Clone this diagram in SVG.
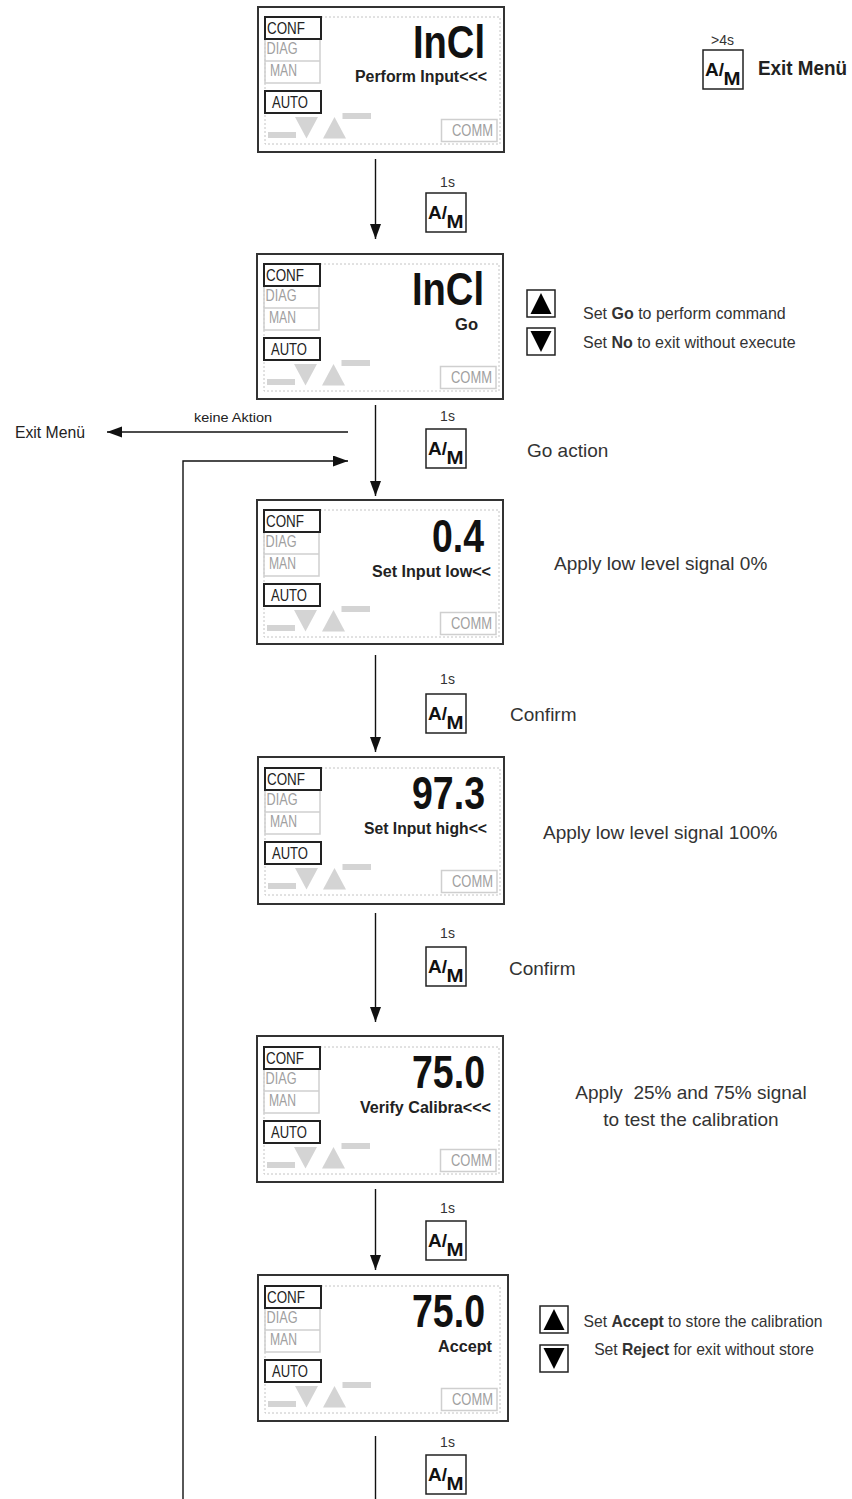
<svg xmlns="http://www.w3.org/2000/svg" xmlns:xlink="http://www.w3.org/1999/xlink" width="852" height="1499" viewBox="0 0 852 1499">
<style>
text{font-family:"Liberation Sans",Arial,sans-serif;fill:#222}
.outer{fill:#fff;stroke:#333;stroke-width:2}
.dash{fill:none;stroke:#c4c4c4;stroke-width:1;stroke-dasharray:2 2}
.gbox{fill:none;stroke:#cfcfcf;stroke-width:1.5}
.bbox{fill:none;stroke:#222;stroke-width:2}
.lcd{fill:#d4d4d4;stroke:none}
.lbl{font-size:16.5px}
.lblg{font-size:16.5px;fill:#a0a0a0}
.num{font-size:46px;font-weight:bold;fill:#111}
.sub{font-size:16px;font-weight:bold;fill:#222}
.desc{font-size:19px;fill:#333}
.hint{font-size:16px;fill:#333}
.hint2{font-size:15.7px;fill:#333}
.t1s{font-size:14px;fill:#333}
.am{font-size:18px;font-weight:bold;fill:#111}
.amb{fill:#fff;stroke:#222;stroke-width:1.5}
.btn{fill:#fff;stroke:#222;stroke-width:1.5}
.tri{fill:#000}
.conn{fill:none;stroke:#111;stroke-width:1.4}
</style>
<defs>
<marker id="ah" markerUnits="userSpaceOnUse" markerWidth="16" markerHeight="12" refX="15" refY="5.5" orient="auto">
<path d="M0,0 L15,5.5 L0,11 Z" fill="#111"/>
</marker>
<g id="dispGfx">
<rect x="7" y="10" width="235" height="127" class="dash"/>
<rect x="7" y="32" width="55" height="44" class="gbox"/>
<line x1="7" y1="54" x2="62" y2="54" class="gbox"/>
<rect x="7" y="10" width="56" height="22" class="bbox"/>
<rect x="7" y="84" width="56" height="22" class="bbox"/>
<rect x="10" y="125" width="28" height="6" class="lcd"/>
<polygon points="37,110 60,110 48.5,131.5" class="lcd"/>
<polygon points="65,131.5 88,131.5 76.5,110" class="lcd"/>
<rect x="84.5" y="106" width="28.5" height="6" class="lcd"/>
<rect x="183.5" y="112.5" width="55.5" height="22" class="gbox"/>
</g>
<g id="amBox"><rect x="0" y="0" width="40" height="39" class="amb"/></g>
<g id="upBtn"><rect x="0" y="0" width="28" height="27" class="btn"/><polygon points="3.5,24 24.5,24 14,3" class="tri"/></g>
<g id="dnBtn"><rect x="0" y="0" width="28" height="27" class="btn"/><polygon points="3.5,3 24.5,3 14,24" class="tri"/></g>
</defs>

<g id="connectors">
<line x1="375.5" y1="159" x2="375.5" y2="239" class="conn" marker-end="url(#ah)"/>
<line x1="375.5" y1="405" x2="375.5" y2="496" class="conn" marker-end="url(#ah)"/>
<line x1="375.5" y1="655" x2="375.5" y2="752" class="conn" marker-end="url(#ah)"/>
<line x1="375.5" y1="913" x2="375.5" y2="1022" class="conn" marker-end="url(#ah)"/>
<line x1="375.5" y1="1189" x2="375.5" y2="1270" class="conn" marker-end="url(#ah)"/>
<line x1="375.5" y1="1436" x2="375.5" y2="1499" class="conn"/>
<line x1="348" y1="432" x2="107" y2="432" class="conn" marker-end="url(#ah)"/>
<polyline points="183,1499 183,461 348,461" class="conn" marker-end="url(#ah)"/>
<text x="194" y="422" font-size="12.5px" textLength="78" lengthAdjust="spacingAndGlyphs">keine Aktion</text>
<text x="15" y="438" font-size="16px" fill="#333" textLength="70" lengthAdjust="spacingAndGlyphs">Exit Menü</text>
</g>

<g id="step1-am">
<text x="447.5" y="187" class="t1s" text-anchor="middle">1s</text>
<use xlink:href="#amBox" x="426" y="193"/>
<text x="428" y="219" class="am" textLength="19" lengthAdjust="spacingAndGlyphs">A/</text><text x="446.5" y="228" class="am" textLength="17" lengthAdjust="spacingAndGlyphs">M</text>
</g>
<g id="step2-am">
<text x="447.5" y="421" class="t1s" text-anchor="middle">1s</text>
<use xlink:href="#amBox" x="426" y="429"/>
<text x="428" y="455" class="am" textLength="19" lengthAdjust="spacingAndGlyphs">A/</text><text x="446.5" y="464" class="am" textLength="17" lengthAdjust="spacingAndGlyphs">M</text>
<text x="527" y="457" class="desc">Go action</text>
</g>
<g id="step3-am">
<text x="447.5" y="684" class="t1s" text-anchor="middle">1s</text>
<use xlink:href="#amBox" x="426" y="694"/>
<text x="428" y="720" class="am" textLength="19" lengthAdjust="spacingAndGlyphs">A/</text><text x="446.5" y="729" class="am" textLength="17" lengthAdjust="spacingAndGlyphs">M</text>
<text x="510" y="721" class="desc">Confirm</text>
</g>
<g id="step4-am">
<text x="447.5" y="938" class="t1s" text-anchor="middle">1s</text>
<use xlink:href="#amBox" x="426" y="947"/>
<text x="428" y="973" class="am" textLength="19" lengthAdjust="spacingAndGlyphs">A/</text><text x="446.5" y="982" class="am" textLength="17" lengthAdjust="spacingAndGlyphs">M</text>
<text x="509" y="975" class="desc">Confirm</text>
</g>
<g id="step5-am">
<text x="447.5" y="1213" class="t1s" text-anchor="middle">1s</text>
<use xlink:href="#amBox" x="426" y="1221"/>
<text x="428" y="1247" class="am" textLength="19" lengthAdjust="spacingAndGlyphs">A/</text><text x="446.5" y="1256" class="am" textLength="17" lengthAdjust="spacingAndGlyphs">M</text>
</g>
<g id="step6-am">
<text x="447.5" y="1447" class="t1s" text-anchor="middle">1s</text>
<use xlink:href="#amBox" x="426" y="1455"/>
<text x="428" y="1481" class="am" textLength="19" lengthAdjust="spacingAndGlyphs">A/</text><text x="446.5" y="1490" class="am" textLength="17" lengthAdjust="spacingAndGlyphs">M</text>
</g>

<g id="exit-hint">
<text x="722.5" y="45" class="t1s" text-anchor="middle">&gt;4s</text>
<use xlink:href="#amBox" x="703" y="50"/>
<text x="705" y="76" class="am" textLength="19" lengthAdjust="spacingAndGlyphs">A/</text><text x="723.5" y="85" class="am" textLength="17" lengthAdjust="spacingAndGlyphs">M</text>
<text x="758" y="75" font-size="20px" font-weight="bold" fill="#111" textLength="89" lengthAdjust="spacingAndGlyphs">Exit Menü</text>
</g>

<g id="display1">
<rect x="258" y="7" width="246" height="145" class="outer"/>
<use xlink:href="#dispGfx" x="258" y="7"/>
<text x="267" y="33.5" class="lbl" textLength="38" lengthAdjust="spacingAndGlyphs">CONF</text>
<text x="266.5" y="54" class="lblg" textLength="31" lengthAdjust="spacingAndGlyphs">DIAG</text>
<text x="270" y="76" class="lblg" textLength="27" lengthAdjust="spacingAndGlyphs">MAN</text>
<text x="272" y="107.5" class="lbl" textLength="36" lengthAdjust="spacingAndGlyphs">AUTO</text>
<text x="452" y="136" class="lblg" textLength="41" lengthAdjust="spacingAndGlyphs">COMM</text>
<text x="413" y="58" class="num" textLength="72" lengthAdjust="spacingAndGlyphs">InCl</text>
<text x="355" y="82" class="sub" textLength="132" lengthAdjust="spacingAndGlyphs">Perform Input&lt;&lt;&lt;</text>
</g>

<g id="display2">
<rect x="257" y="254" width="246" height="145" class="outer"/>
<use xlink:href="#dispGfx" x="257" y="254"/>
<text x="266" y="280.5" class="lbl" textLength="38" lengthAdjust="spacingAndGlyphs">CONF</text>
<text x="265.5" y="301" class="lblg" textLength="31" lengthAdjust="spacingAndGlyphs">DIAG</text>
<text x="269" y="323" class="lblg" textLength="27" lengthAdjust="spacingAndGlyphs">MAN</text>
<text x="271" y="354.5" class="lbl" textLength="36" lengthAdjust="spacingAndGlyphs">AUTO</text>
<text x="451" y="383" class="lblg" textLength="41" lengthAdjust="spacingAndGlyphs">COMM</text>
<text x="412" y="305" class="num" textLength="72" lengthAdjust="spacingAndGlyphs">InCl</text>
<text x="455" y="330" class="sub" textLength="23" lengthAdjust="spacingAndGlyphs">Go</text>
</g>
<g id="go-hints">
<use xlink:href="#upBtn" x="527" y="290"/>
<use xlink:href="#dnBtn" x="527" y="328"/>
<text x="583" y="319" class="hint">Set <tspan font-weight="bold">Go</tspan> to perform command</text>
<text x="583" y="348" class="hint">Set <tspan font-weight="bold">No</tspan> to exit without execute</text>
</g>

<g id="display3">
<rect x="257" y="500" width="246" height="144" class="outer"/>
<use xlink:href="#dispGfx" x="257" y="500"/>
<text x="266" y="526.5" class="lbl" textLength="38" lengthAdjust="spacingAndGlyphs">CONF</text>
<text x="265.5" y="547" class="lblg" textLength="31" lengthAdjust="spacingAndGlyphs">DIAG</text>
<text x="269" y="569" class="lblg" textLength="27" lengthAdjust="spacingAndGlyphs">MAN</text>
<text x="271" y="600.5" class="lbl" textLength="36" lengthAdjust="spacingAndGlyphs">AUTO</text>
<text x="451" y="629" class="lblg" textLength="41" lengthAdjust="spacingAndGlyphs">COMM</text>
<text x="432" y="552" class="num" textLength="52" lengthAdjust="spacingAndGlyphs">0.4</text>
<text x="372" y="576.5" class="sub" textLength="119" lengthAdjust="spacingAndGlyphs">Set Input low&lt;&lt;</text>
</g>
<text x="554" y="570" class="desc" id="desc3">Apply low level signal 0%</text>

<g id="display4">
<rect x="258" y="757" width="246" height="147" class="outer"/>
<use xlink:href="#dispGfx" x="258" y="758"/>
<text x="267" y="784.5" class="lbl" textLength="38" lengthAdjust="spacingAndGlyphs">CONF</text>
<text x="266.5" y="805" class="lblg" textLength="31" lengthAdjust="spacingAndGlyphs">DIAG</text>
<text x="270" y="827" class="lblg" textLength="27" lengthAdjust="spacingAndGlyphs">MAN</text>
<text x="272" y="858.5" class="lbl" textLength="36" lengthAdjust="spacingAndGlyphs">AUTO</text>
<text x="452" y="887" class="lblg" textLength="41" lengthAdjust="spacingAndGlyphs">COMM</text>
<text x="412" y="809" class="num" textLength="73" lengthAdjust="spacingAndGlyphs">97.3</text>
<text x="364" y="834" class="sub" textLength="123" lengthAdjust="spacingAndGlyphs">Set Input high&lt;&lt;</text>
</g>
<text x="543" y="839" class="desc" id="desc4">Apply low level signal 100%</text>

<g id="display5">
<rect x="257" y="1036" width="246" height="146" class="outer"/>
<use xlink:href="#dispGfx" x="257" y="1037"/>
<text x="266" y="1063.5" class="lbl" textLength="38" lengthAdjust="spacingAndGlyphs">CONF</text>
<text x="265.5" y="1084" class="lblg" textLength="31" lengthAdjust="spacingAndGlyphs">DIAG</text>
<text x="269" y="1106" class="lblg" textLength="27" lengthAdjust="spacingAndGlyphs">MAN</text>
<text x="271" y="1137.5" class="lbl" textLength="36" lengthAdjust="spacingAndGlyphs">AUTO</text>
<text x="451" y="1166" class="lblg" textLength="41" lengthAdjust="spacingAndGlyphs">COMM</text>
<text x="412" y="1088" class="num" textLength="73" lengthAdjust="spacingAndGlyphs">75.0</text>
<text x="360" y="1113" class="sub" textLength="131" lengthAdjust="spacingAndGlyphs">Verify Calibra&lt;&lt;&lt;</text>
</g>
<g id="desc5">
<text x="691" y="1099" class="desc" text-anchor="middle" xml:space="preserve">Apply  25% and 75% signal</text>
<text x="691" y="1126" class="desc" text-anchor="middle">to test the calibration</text>
</g>

<g id="display6">
<rect x="258" y="1275" width="250" height="146" class="outer"/>
<use xlink:href="#dispGfx" x="258" y="1276"/>
<text x="267" y="1302.5" class="lbl" textLength="38" lengthAdjust="spacingAndGlyphs">CONF</text>
<text x="266.5" y="1323" class="lblg" textLength="31" lengthAdjust="spacingAndGlyphs">DIAG</text>
<text x="270" y="1345" class="lblg" textLength="27" lengthAdjust="spacingAndGlyphs">MAN</text>
<text x="272" y="1376.5" class="lbl" textLength="36" lengthAdjust="spacingAndGlyphs">AUTO</text>
<text x="452" y="1405" class="lblg" textLength="41" lengthAdjust="spacingAndGlyphs">COMM</text>
<text x="412" y="1327" class="num" textLength="73" lengthAdjust="spacingAndGlyphs">75.0</text>
<text x="438" y="1351.5" class="sub" textLength="54" lengthAdjust="spacingAndGlyphs">Accept</text>
</g>
<g id="accept-hints">
<use xlink:href="#upBtn" x="540" y="1306"/>
<use xlink:href="#dnBtn" x="540" y="1345"/>
<text x="703" y="1327" class="hint2" text-anchor="middle">Set <tspan font-weight="bold">Accept</tspan> to store the calibration</text>
<text x="704" y="1355" class="hint2" text-anchor="middle">Set <tspan font-weight="bold">Reject</tspan> for exit without store</text>
</g>
</svg>
